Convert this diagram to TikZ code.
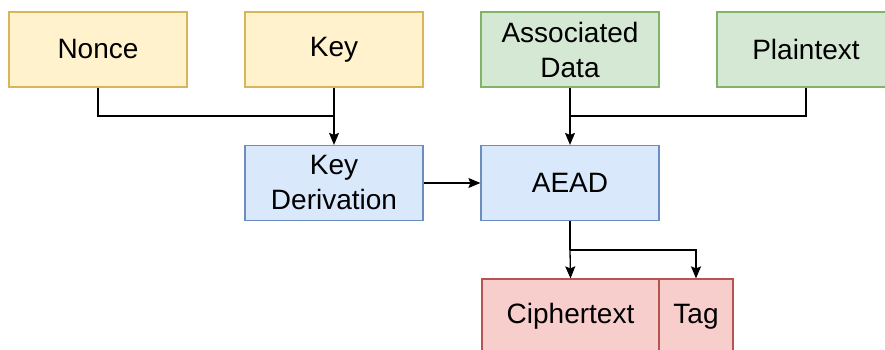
\documentclass[tikz,border=0pt]{standalone}
\usepackage{fontspec}
\setmainfont{Liberation Sans}
\usetikzlibrary{arrows.meta}
\definecolor{yfill}{HTML}{FFF2CC}\definecolor{ydraw}{HTML}{D6B656}
\definecolor{gfill}{HTML}{D5E8D4}\definecolor{gdraw}{HTML}{82B366}
\definecolor{bfill}{HTML}{DAE8FC}\definecolor{bdraw}{HTML}{6C8EBF}
\definecolor{rfill}{HTML}{F8CECC}\definecolor{rdraw}{HTML}{B85450}
\begin{document}
\begin{tikzpicture}[x=1pt,y=-1pt,
  box/.style={rectangle,draw,line width=1.2pt,minimum width=178pt,minimum height=75pt,inner sep=0pt,
    align=center,font=\fontsize{28}{35}\selectfont},
  ybox/.style={box,fill=yfill,draw=ydraw},
  gbox/.style={box,fill=gfill,draw=gdraw},
  bbox/.style={box,fill=bfill,draw=bdraw},
  rbox/.style={box,fill=rfill,draw=rdraw},
  conn/.style={line width=1.3pt,black},
  arr/.style={conn,-{Stealth[length=12pt,width=10pt,inset=2pt]}}]
\useasboundingbox (0,0) rectangle (885,350);
\clip (0,0) rectangle (885,350);
\fill[white] (0,0) rectangle (885,350);
\node[ybox] (nonce) at (98,49.5) {Nonce};
\node[ybox] (key) at (334,49.5) {Key};
\node[gbox] (ad) at (570,49.5) {Associated\\Data};
\node[gbox] (pt) at (806,49.5) {Plaintext};
\node[bbox] (kd) at (334,183) {Key\\Derivation};
\node[bbox] (aead) at (570,183) {AEAD};
\node[rbox,minimum width=177pt] (ct) at (570.5,316.5) {Ciphertext};
\node[rbox,minimum width=74pt] (tag) at (696,316.5) {Tag};
\coordinate (j1) at (334,116);
\coordinate (j2) at (570,116);
\coordinate (j3) at (570,250);
\draw[conn] (nonce.south) |- (j1);
\draw[arr] (key.south) -- (kd.north);
\draw[conn] (pt.south) |- (j2);
\draw[arr] (ad.south) -- (aead.north);
\draw[arr] (kd.east) -- (aead.west);
\draw[conn] (aead.south) -- (j3);
\draw[arr] (j3) -- (ct.north);
\draw[arr] (j3) -| (tag.north);
\end{tikzpicture}
\end{document}
